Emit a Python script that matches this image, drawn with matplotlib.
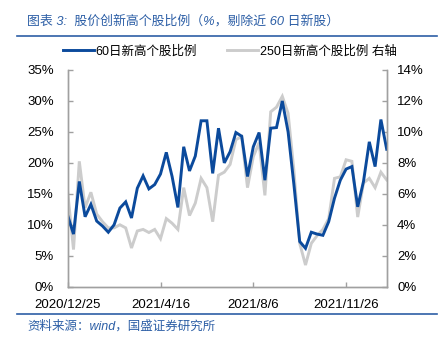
import matplotlib
matplotlib.use("Agg")
import matplotlib.pyplot as plt
from matplotlib.lines import Line2D
from matplotlib.ticker import FuncFormatter
import pandas as pd

plt.rcParams['font.family'] = ['Liberation Sans', 'Noto Sans CJK SC']

# weekly observations, 2020/12/25 .. 2022/1/14
dates = pd.date_range('2020-12-25', periods=56, freq='7D')

# 60日新高个股比例 (left axis, %)
new_high_60 = [11.5, 8.5, 17.0, 11.3, 13.3, 10.6, 9.8, 8.8, 10.0, 12.7,
               13.7, 11.1, 15.9, 17.9, 15.8, 16.5, 18.2, 21.7, 17.8, 12.8,
               22.6, 18.7, 21.1, 26.8, 26.8, 18.3, 25.6, 20.0, 21.8, 24.9,
               24.3, 17.8, 22.6, 24.9, 17.2, 25.6, 25.7, 30.0, 25.0, 16.5,
               7.3, 6.2, 8.8, 8.5, 8.3, 10.5, 14.3, 17.2, 19.0, 19.4,
               12.9, 17.0, 23.4, 19.4, 27.0, 22.2]

# 250日新高个股比例 (right axis, %)
new_high_250 = [6.1, 2.4, 8.1, 5.1, 6.1, 4.7, 4.2, 3.8, 3.8, 4.0,
                3.8, 2.5, 3.6, 3.7, 3.5, 3.7, 3.1, 4.4, 4.1, 3.7,
                6.4, 4.6, 5.4, 7.0, 6.4, 4.2, 7.2, 7.4, 7.9, 9.5,
                9.7, 6.4, 8.4, 9.3, 5.9, 11.3, 11.6, 12.3, 11.2, 7.5,
                2.8, 1.4, 2.8, 3.3, 3.7, 4.4, 7.0, 7.1, 8.2, 8.1,
                4.5, 6.7, 7.0, 6.4, 7.4, 6.9]

tick_labels = ['2020/12/25', '2021/4/16', '2021/8/6', '2021/11/26']

blue = '#0B4A9C'
grey = '#CCCCCC'
axis_grey = '#A0A0A0'
title_blue = '#2D5FA6'

W, H = 442, 341
fig = plt.figure(figsize=(W / 100, H / 100), dpi=100)

ax = fig.add_axes([67.7 / W, 1 - 286.7 / H, (386.7 - 67.7) / W, (286.7 - 70) / H])
ax2 = ax.twinx()
ax.set_zorder(ax2.get_zorder() + 1)
ax.patch.set_visible(False)

x = list(range(len(dates)))
l2, = ax2.plot(x, new_high_250, color=grey, lw=2.1, solid_joinstyle='miter')
l1, = ax.plot(x, new_high_60, color=blue, lw=2.1, solid_joinstyle='miter')

ax.set_xlim(0, len(dates) - 1)
ax.set_ylim(0, 35)
ax2.set_ylim(0, 14)
ax.set_yticks(range(0, 36, 5))
ax2.set_yticks(range(0, 15, 2))
pct = FuncFormatter(lambda v, p: '%d%%' % v)
ax.yaxis.set_major_formatter(pct)
ax2.yaxis.set_major_formatter(pct)

date_str = [d.strftime('%Y/%-m/%-d') for d in dates]
ax.set_xticks([date_str.index(t) for t in tick_labels])
ax.set_xticklabels(tick_labels)

for a in (ax, ax2):
    for s in a.spines.values():
        s.set_color(axis_grey)
        s.set_linewidth(1.0)
    a.spines['top'].set_visible(False)
    a.tick_params(direction='in', length=3.5, width=1.0, color=axis_grey,
                  labelsize=9.5, labelcolor='black')
ax.tick_params(axis='y', pad=10)
ax2.tick_params(axis='y', pad=7.5)
ax.tick_params(axis='x', pad=8.5)

fig.legend([l1, l2], ['60日新高个股比例', '250日新高个股比例 右轴'],
           loc='center', bbox_to_anchor=(0.52, 1 - 51.5 / H), ncol=2,
           frameon=False, fontsize=9, handlelength=2.5, handletextpad=0.15,
           columnspacing=2.4, borderaxespad=0)

fig.text(27 / W, 1 - 21 / H, '图表 3:  股价创新高个股比例（%，剔除近 60 日新股）',
         color=title_blue, fontsize=9.3, style='italic', va='center', ha='left')
fig.text(27 / W, 1 - 326 / H, '资料来源：wind，国盛证券研究所',
         color=title_blue, fontsize=9, style='italic', va='center', ha='left')

fig.add_artist(Line2D([17 / W, 437 / W], [1 - 36 / H] * 2, color=title_blue, lw=1.2))
fig.add_artist(Line2D([17 / W, 437 / W], [1 - 314 / H] * 2, color=title_blue, lw=1.2))

fig.savefig('out.png', dpi=100)
